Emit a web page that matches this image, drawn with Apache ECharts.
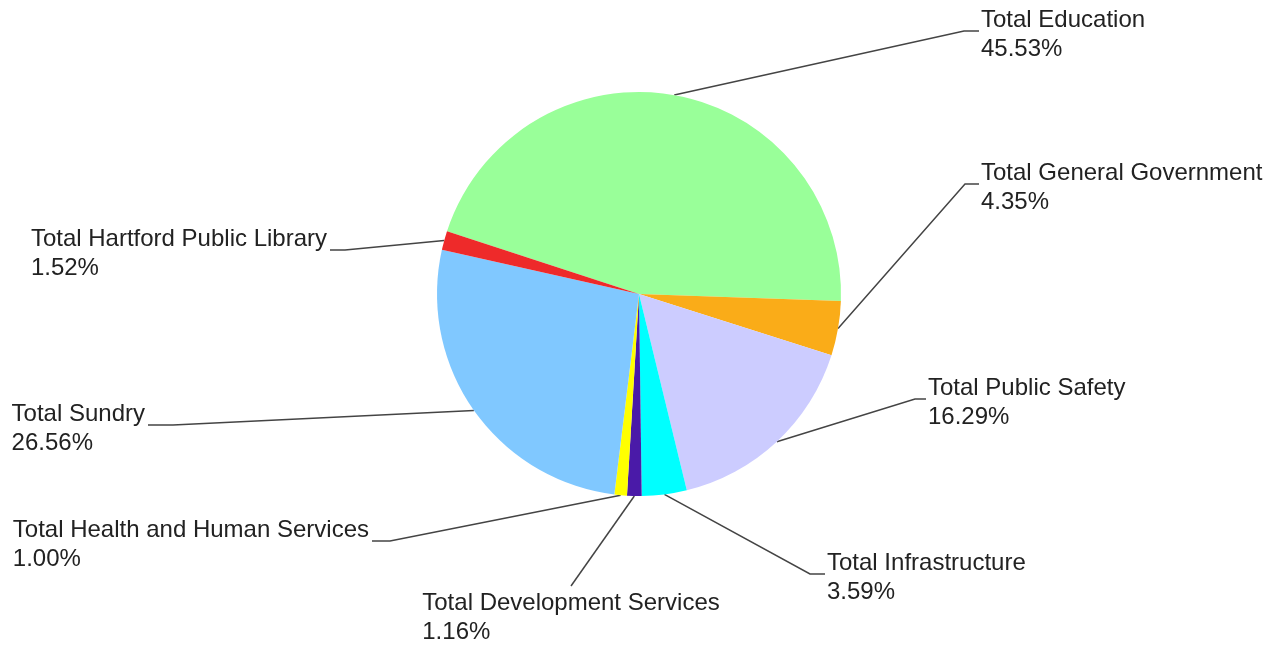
<!DOCTYPE html>
<html>
<head>
<meta charset="utf-8">
<script src="https://cdn.jsdelivr.net/npm/echarts@6/dist/echarts.min.js"></script>
<style>html,body{margin:0;padding:0;background:#fff}#c{width:1276px;height:645px}</style>
</head>
<body>
<div id="c"></div>
<script>
// ---- data ----
var categories = ['Total Education','Total General Government','Total Public Safety','Total Infrastructure','Total Development Services','Total Health and Human Services','Total Sundry','Total Hartford Public Library'];
var values = [45.53, 4.35, 16.29, 3.59, 1.16, 1.00, 26.56, 1.52];
var colors = ['#99FF99','#FAAC18','#CCCCFF','#00FFFF','#4A1AA8','#FFFF00','#80C8FF','#EE2A2A'];

// ---- label layout (side, anchor x, anchor y, bend length) ----
var labelSide = ['right','right','right','right','below','left','left','left'];
var labelAnchor = [[979,31],[979,184],[926,399],[825,574],[571,586],[372,541],[148,425],[330,250]];
var bendLen = [15,14,11,15,0,18,25,15];

var chart = echarts.init(document.getElementById('c'), null, {renderer:'canvas'});
var data = categories.map(function(n,i){ return {name:n, value:values[i], itemStyle:{color:colors[i]}}; });

chart.setOption({
  animation:false,
  series:[{
    type:'pie',
    center:[639,294],
    radius:202,
    startAngle:161.9,
    clockwise:true,
    data:data,
    itemStyle:{borderWidth:0},
    label:{
      show:true,
      position:'outside',
      fontFamily:'Liberation Sans, Arial, sans-serif',
      fontSize:24,
      lineHeight:29,
      color:'#222222',
      align:'left',
      formatter:function(p){ return p.name + '\n' + p.value.toFixed(2) + '%'; }
    },
    labelLine:{show:true, length:20, length2:15, lineStyle:{color:'#444444', width:1.5}},
    labelLayout:function(p){
      var i = p.dataIndex;
      var a = labelAnchor[i], side = labelSide[i];
      var w = p.labelRect.width, h = p.labelRect.height;
      var start = p.labelLinePoints[0];
      if (side === 'right') {
        return {x:a[0]+2, y:a[1]+3.5, align:'left', verticalAlign:'middle',
          labelLinePoints:[start,[a[0]-bendLen[i],a[1]],[a[0],a[1]]]};
      } else if (side === 'left') {
        return {x:a[0]-3-w, y:a[1]+3.5, align:'left', verticalAlign:'middle',
          labelLinePoints:[start,[a[0]+bendLen[i],a[1]],[a[0],a[1]]]};
      } else {
        return {x:a[0]-w/2, y:a[1]+3+h/2, align:'left', verticalAlign:'middle',
          labelLinePoints:[start,[a[0],a[1]],[a[0],a[1]]]};
      }
    }
  }]
});
</script>
</body>
</html>
